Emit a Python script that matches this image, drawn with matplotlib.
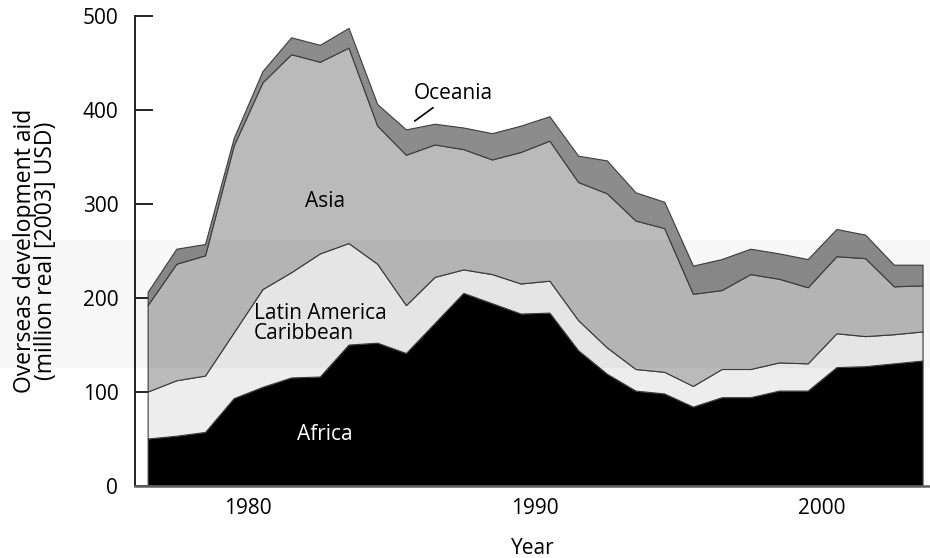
import numpy as np
import matplotlib
matplotlib.use("Agg")
import matplotlib.pyplot as plt
from matplotlib.patches import Rectangle

plt.rcParams['font.family'] = ['Open Sans', 'DejaVu Sans']

# aid per region, million real (2003) USD
years = np.arange(1976, 2004)
africa = [50, 53, 57, 93, 105, 115, 116, 150, 152, 141, 173, 205, 194, 183,
          184, 144, 119, 101, 98, 84, 94, 94, 101, 101, 126, 127, 130, 133]
latam = [50, 59, 60, 70, 104, 112, 131, 108, 84, 51, 49, 25, 31, 32,
         34, 32, 28, 23, 23, 22, 30, 30, 30, 29, 36, 32, 31, 31]
asia = [92, 124, 128, 199, 220, 232, 204, 208, 147, 160, 141, 128, 122, 140,
        149, 147, 164, 158, 153, 98, 84, 101, 89, 81, 82, 83, 51, 49]
oceania = [14, 16, 12, 8, 12, 18, 18, 21, 23, 27, 22, 23, 28, 28,
           26, 28, 35, 30, 28, 30, 33, 27, 27, 30, 29, 25, 23, 22]
xticks = [1980, 1990, 2000]
yticks = [0, 100, 200, 300, 400, 500]

fig = plt.figure(figsize=(9.3, 5.58), dpi=100)
ax = fig.add_axes([135/930, 72.5/558, 795/930, 469.8/558])

# values plotted at mid-year
x = years + 0.5
ax.stackplot(x, africa, latam, asia, oceania,
             colors=['#000000', '#ededed', '#bababa', '#8c8c8c'],
             edgecolor='#3c3c3c', linewidth=0.8)

ax.set_xlim(1976.06, 2003.76)
ax.set_ylim(0, 500)
ax.set_axisbelow(True)

ax.spines['top'].set_visible(False)
ax.spines['right'].set_visible(False)
ax.spines['left'].set_linewidth(1.4)
ax.spines['left'].set_color('#222222')
ax.spines['bottom'].set_linewidth(1.8)
ax.spines['bottom'].set_color('#606060')

ax.set_yticks(yticks)
ax.set_xticks(xticks)
ax.tick_params(axis='y', direction='in', length=13, width=1.4, color='#222222',
               labelsize=15, pad=12)
ax.tick_params(axis='x', length=0, labelsize=15, pad=9)

ax.set_xlabel('Year', fontsize=15, labelpad=14)
ax.set_ylabel('Overseas development aid\n(million real [2003] USD)',
              fontsize=16.5, linespacing=0.8)
ax.yaxis.set_label_coords(-0.097, 0.5)

# region labels
ax.text(1982.68, 302, 'Asia', fontsize=15, ha='center', va='center')
ax.text(1987.14, 417, 'Oceania', fontsize=15, ha='center', va='center')
ax.plot([1985.81, 1986.44], [388, 402], color='black', lw=1.2)
ax.text(1980.2, 183, 'Latin America', fontsize=15, ha='left', va='center')
ax.text(1980.2, 162, 'Caribbean', fontsize=15, ha='left', va='center')
ax.text(1982.68, 54, 'Africa', fontsize=15, ha='center', va='center', color='white')

# faint scan band seen in the source image
fig.patches.append(Rectangle((0, 190/558), 1, 128/558, transform=fig.transFigure,
                             color='black', alpha=0.03, lw=0, zorder=10))

fig.savefig('out.png', dpi=100)
